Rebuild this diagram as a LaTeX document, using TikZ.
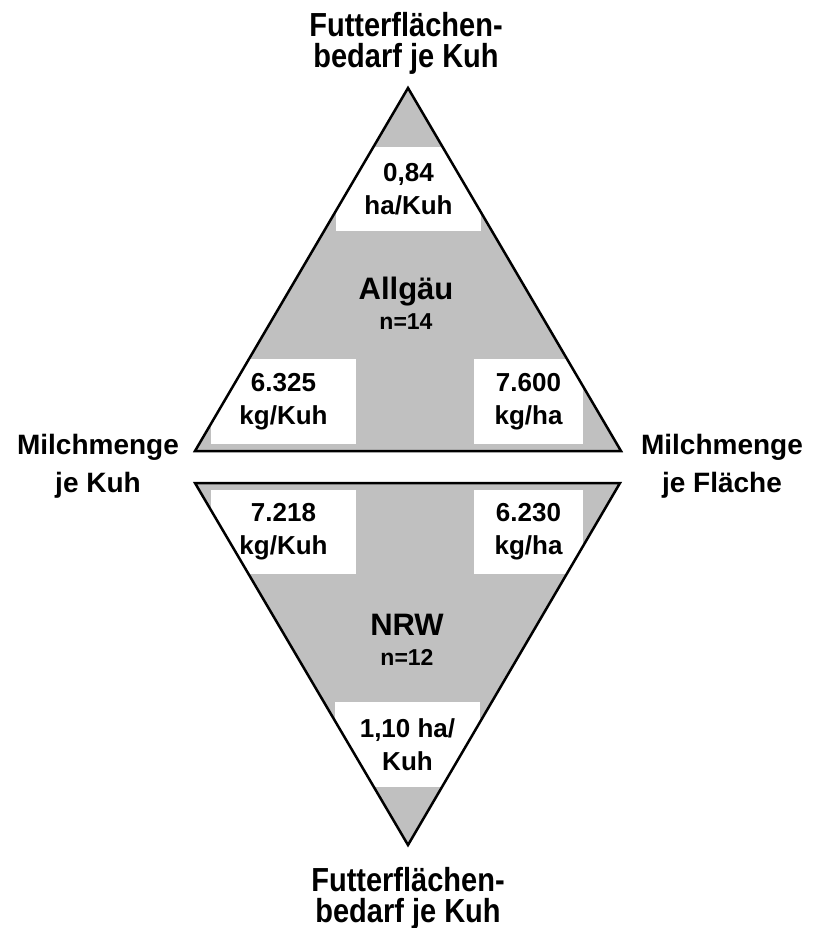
\documentclass[tikz,border=0pt]{standalone}
\usepackage{fontspec}
\setmainfont{Liberation Sans}
\usetikzlibrary{positioning}
\definecolor{areagray}{RGB}{192,192,192}
\newcommand{\talltext}[1]{\scalebox{1}[1.15]{#1}}

\begin{document}
\begin{tikzpicture}[x=1pt,y=-1pt,
  axislabel/.style={font=\bfseries\fontsize{28}{38}\selectfont, align=center, inner sep=0pt},
  titlelabel/.style={font=\bfseries\fontsize{29}{31}\selectfont, align=center, inner sep=0pt},
  valbox/.style={fill=white, inner sep=0pt, align=center, font=\bfseries\fontsize{26}{33}\selectfont},
  region/.style={font=\bfseries\fontsize{31}{31}\selectfont, inner sep=0pt},
  samplesize/.style={font=\bfseries\fontsize{23}{23}\selectfont, inner sep=0pt},
  edge/.style={line width=2.5pt, line join=miter}]

  \useasboundingbox (0,0) rectangle (813,928);

  % corners of the two triangles
  \coordinate (atop) at (408,88);
  \coordinate (aleft) at (195,451);
  \coordinate (aright) at (621,451);
  \coordinate (nleft) at (195,483);
  \coordinate (nright) at (620,483);
  \coordinate (nbot) at (408,845);

  \fill[areagray] (atop) -- (aleft) -- (aright) -- cycle;
  \fill[areagray] (nleft) -- (nright) -- (nbot) -- cycle;

  % value boxes, Allgaeu
  \node[valbox, minimum width=145pt, minimum height=84pt] (aflaeche) at (408.5,189) {0,84\\ha/Kuh};
  \node[valbox, minimum width=145pt, minimum height=85pt] (akuh) at (283.5,401.5) {6.325\\kg/Kuh};
  \node[valbox, minimum width=109pt, minimum height=85pt] (aha) at (528.5,401.5) {7.600\\kg/ha};
  % value boxes, NRW
  \node[valbox, minimum width=145pt, minimum height=84pt] (nkuh) at (283.5,532) {7.218\\kg/Kuh};
  \node[valbox, minimum width=109pt, minimum height=84pt] (nha) at (528.5,532) {6.230\\kg/ha};
  \node[valbox, minimum width=145pt, minimum height=85pt] (nflaeche) at (407.5,744.5) {1,10 ha/\\Kuh};

  \draw[edge] (atop) -- (aleft) -- (aright) -- cycle;
  \draw[edge] (nleft) -- (nright) -- (nbot) -- cycle;

  % region names
  \node[region, anchor=base] (allgaeu) at (406,299) {Allgäu};
  \node[samplesize, anchor=base] (nallgaeu) at (406,329) {n=14};
  \node[region, anchor=base] (nrw) at (407,635) {NRW};
  \node[samplesize, anchor=base] (nnrw) at (407,665) {n=12};

  % corner labels (base = last line)
  \node[titlelabel, anchor=base] (toplabel) at (406,68) {\talltext{Futterflächen-}\\\talltext{bedarf je Kuh}};
  \node[titlelabel, anchor=base] (botlabel) at (408,922) {\talltext{Futterflächen-}\\\talltext{bedarf je Kuh}};
  \node[axislabel, anchor=base] (leftlabel) at (98,492) {Milchmenge\\je Kuh};
  \node[axislabel, anchor=base] (rightlabel) at (722,492) {Milchmenge\\je Fläche};

\end{tikzpicture}
\end{document}
